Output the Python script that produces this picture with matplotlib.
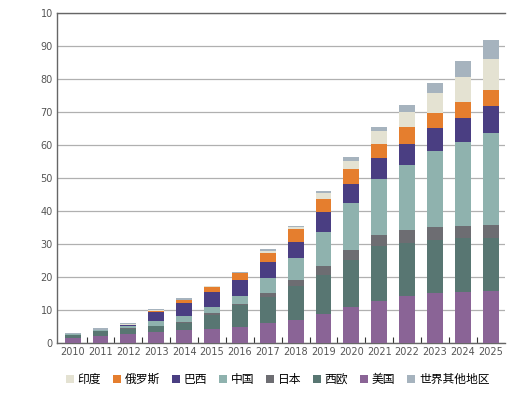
import matplotlib.pyplot as plt
import numpy as np

years = [str(y) for y in range(2010, 2026)]

# segment heights, bottom to top
us = [1.6, 2.2, 2.9, 3.4, 3.9, 4.4, 4.8, 6.0, 7.1, 8.9, 11.1, 12.9, 14.4, 15.3, 15.5, 15.7]
w_europe = [0.8, 1.4, 1.4, 1.7, 2.3, 4.2, 6.8, 8.0, 10.2, 11.8, 14.1, 16.4, 15.9, 16.0, 16.4, 16.2]
japan = [0.2, 0.1, 0.2, 0.2, 0.3, 0.4, 0.2, 1.1, 1.7, 2.7, 3.1, 3.5, 4.0, 4.0, 3.7, 4.0]
china = [0.3, 0.2, 0.8, 1.3, 1.8, 2.1, 2.6, 4.5, 6.7, 10.4, 14.2, 17.0, 19.7, 23.0, 25.4, 27.9]
brazil = [0.0, 0.0, 0.3, 2.7, 3.8, 4.3, 4.7, 5.0, 5.1, 5.8, 5.8, 6.4, 6.5, 7.0, 7.3, 8.1]
russia = [0.0, 0.0, 0.0, 0.5, 0.9, 1.5, 2.3, 2.7, 3.8, 4.2, 4.6, 4.3, 4.9, 4.5, 4.8, 4.9]
india = [0.0, 0.0, 0.1, 0.2, 0.1, 0.3, 0.0, 0.6, 0.6, 1.6, 2.4, 3.8, 4.7, 6.1, 7.6, 9.4]
rest = [0.2, 0.7, 0.5, 0.4, 0.7, 0.2, 0.2, 0.5, 0.3, 0.8, 1.2, 1.3, 2.1, 3.0, 4.7, 5.8]

y_ticks = [0, 10, 20, 30, 40, 50, 60, 70, 80, 90, 100]
y_labels = ['0', '10', '20', '30', '40', '50', '60', '70', '80', '90', '10']

stack = [
    ('美国', us, '#8a6496'),
    ('西欧', w_europe, '#587672'),
    ('日本', japan, '#6d6d72'),
    ('中国', china, '#8fb2ae'),
    ('巴西', brazil, '#4a3e82'),
    ('俄罗斯', russia, '#e57e2e'),
    ('印度', india, '#e4e2d2'),
    ('世界其他地区', rest, '#a6b3be'),
]
legend_order = ['印度', '俄罗斯', '巴西', '中国', '日本', '西欧', '美国', '世界其他地区']

plt.rcParams['font.family'] = ['Noto Sans CJK SC', 'DejaVu Sans']

fig = plt.figure(figsize=(5.14, 3.94), dpi=100)
ax = fig.add_axes([0.111, 0.129, 0.871, 0.8376])

x = np.arange(len(years))
bottom = np.zeros(len(years))
handles = {}
for name, vals, col in stack:
    vals = np.array(vals)
    b = ax.bar(x, vals, 0.57, bottom=bottom, color=col, label=name, zorder=3)
    handles[name] = b
    bottom += vals

ax.set_xlim(-0.56, 15.5)
ax.set_ylim(0, 100)
ax.set_yticks(y_ticks)
ax.set_yticklabels(y_labels)
ax.set_xticks(x)
ax.set_xticklabels(years)
ax.set_xticks(np.arange(0.5, 15.5, 1), minor=True)

num_font = ['Liberation Sans Narrow', 'DejaVu Sans']
for lab in ax.get_xticklabels() + ax.get_yticklabels():
    lab.set_family(num_font)
    lab.set_fontsize(7)
    lab.set_color('#555555')

ax.tick_params(axis='both', which='major', length=0, pad=3)
ax.tick_params(axis='x', which='minor', direction='in', length=4, width=0.8, color='#333333')

ax.grid(axis='y', color='#b0b0b0', linewidth=0.9, zorder=0)
ax.spines['right'].set_visible(False)
for s in ['top', 'left', 'bottom']:
    ax.spines[s].set_color('#666666')
    ax.spines[s].set_linewidth(1.0)

fig.legend([handles[n] for n in legend_order], legend_order, loc='center',
           bbox_to_anchor=(0.54, 0.036), ncol=8, frameon=False,
           fontsize=8.5, handlelength=0.7, handleheight=0.7,
           handletextpad=0.3, columnspacing=1.0)

fig.savefig('out.png', dpi=100)
